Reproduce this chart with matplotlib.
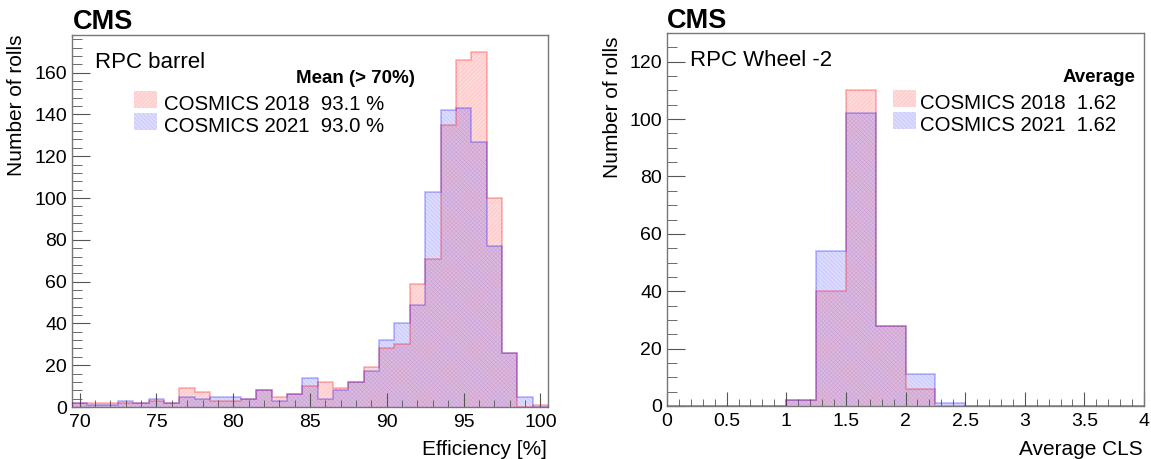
import numpy as np
import matplotlib
matplotlib.use("Agg")
import matplotlib.pyplot as plt
from matplotlib.patches import Rectangle
from matplotlib.ticker import MultipleLocator

plt.rcParams['font.family'] = ['Liberation Sans', 'DejaVu Sans']
plt.rcParams['hatch.linewidth'] = 0.35

# ---------------- data ----------------
eff_edges = np.arange(69.5, 101.0, 1.0)          # 31 bins, 70..100
eff_2018 = [2, 2, 2, 2, 2, 3, 2, 9, 7, 3, 3, 4, 8, 5, 6, 10, 12, 9, 12, 19,
            28, 30, 59, 71, 135, 166, 170, 100, 26, 0, 1]
eff_2021 = [2, 1, 1, 3, 2, 4, 2, 5, 4, 5, 5, 4, 8, 3, 6, 14, 4, 8, 12, 17,
            32, 40, 49, 103, 142, 143, 127, 77, 26, 5, 0]

cls_edges = np.arange(0.0, 4.01, 0.25)            # 16 bins
cls_2018 = [0, 0, 0, 0, 2, 40, 110, 28, 6, 0, 0, 0, 0, 0, 0, 0]
cls_2021 = [0, 0, 0, 0, 2, 54, 102, 28, 11, 1, 0, 0, 0, 0, 0, 0]

labels = ["COSMICS 2018", "COSMICS 2021"]
eff_means = ["93.1 %", "93.0 %"]
cls_avgs = ["1.62", "1.62"]

# ---------------- style ----------------
W, H = 1151, 459
fig = plt.figure(figsize=(W / 100, H / 100), dpi=100)

def fx(px):
    return px / W

def fy(py):
    return 1 - py / H

RED_FACE = (1, 0, 0, 0.15)
RED_HATCH = (1, 0, 0, 0.14)
RED_LINE = (1, 0, 0, 0.32)
BLUE_FACE = (0, 0, 1, 0.14)
BLUE_HATCH = (0, 0, 1, 0.14)
BLUE_LINE = (0, 0, 1, 0.30)

styles = [
    dict(face=RED_FACE, hatch_c=RED_HATCH, line=RED_LINE, hatch='////////'),
    dict(face=BLUE_FACE, hatch_c=BLUE_HATCH, line=BLUE_LINE,
         hatch='\\\\\\\\\\\\\\\\'),
]

def draw_hist(ax, values, edges, st):
    ax.stairs(values, edges, fill=True, facecolor=st['face'], edgecolor='none',
              linewidth=0)
    ax.stairs(values, edges, fill=True, facecolor='none', edgecolor=st['hatch_c'],
              hatch=st['hatch'], linewidth=0)
    ax.stairs(values, edges, fill=False, color=st['line'], linewidth=1.1,
              baseline=0, zorder=3)

def style_axes(ax, xmaj, xmin, ymaj, ymin):
    ax.xaxis.set_major_locator(MultipleLocator(xmaj))
    ax.xaxis.set_minor_locator(MultipleLocator(xmin))
    ax.yaxis.set_major_locator(MultipleLocator(ymaj))
    ax.yaxis.set_minor_locator(MultipleLocator(ymin))
    ax.tick_params(axis='both', which='both', direction='in', top=False,
                   right=False, labelsize=14, color='#555555')
    ax.tick_params(axis='x', which='major', length=10, pad=5)
    ax.tick_params(axis='x', which='minor', length=5)
    ax.tick_params(axis='y', which='major', length=13, pad=3.5)
    ax.tick_params(axis='y', which='minor', length=7)
    for s in ax.spines.values():
        s.set_color('#777777')
        s.set_linewidth(1.0)

# ---------------- left panel ----------------
axL = fig.add_axes([fx(72), fy(407), fx(548) - fx(72), fy(35) - fy(407)])
for vals, st in zip([eff_2018, eff_2021], styles):
    draw_hist(axL, vals, eff_edges, st)
axL.set_xlim(69.5, 100.5)
axL.set_ylim(0, 178)
style_axes(axL, 5, 1, 20, 4)

# ---------------- right panel ----------------
axR = fig.add_axes([fx(667), fy(406), fx(1144) - fx(667), fy(33) - fy(406)])
for vals, st in zip([cls_2018, cls_2021], styles):
    draw_hist(axR, vals, cls_edges, st)
axR.set_xlim(0, 4)
axR.set_ylim(0, 130)
style_axes(axR, 0.5, 0.1, 20, 5)
axR.set_xticks([0, 0.5, 1, 1.5, 2, 2.5, 3, 3.5, 4])
axR.set_xticklabels(['0', '0.5', '1', '1.5', '2', '2.5', '3', '3.5', '4'])

# ---------------- texts ----------------
fig.text(fx(73), fy(29), "CMS", fontsize=19.5, fontweight='bold', va='baseline')
fig.text(fx(667), fy(28), "CMS", fontsize=19.5, fontweight='bold', va='baseline')
fig.text(fx(95), fy(68), "RPC barrel", fontsize=16, va='baseline')
fig.text(fx(690), fy(66), "RPC Wheel -2", fontsize=16, va='baseline')

fig.text(fx(17), fy(35), "Number of rolls", fontsize=15, rotation=90,
         ha='center', va='top')
fig.text(fx(612), fy(36), "Number of rolls", fontsize=15, rotation=90,
         ha='center', va='top')
fig.text(fx(547), fy(455), "Efficiency [%]", fontsize=15, ha='right',
         va='baseline')
fig.text(fx(1143), fy(455), "Average CLS", fontsize=15, ha='right',
         va='baseline')

# ---------------- legends ----------------
def legend(header, header_x, header_y, patch_x, text_x, base_y, entries):
    fig.text(fx(header_x), fy(header_y), header, fontsize=13.5,
             fontweight='bold', ha='right', va='baseline')
    for i, (lab, val) in enumerate(entries):
        st = styles[i]
        y_base = base_y + i * 22
        for face, ec, hatch in [(st['face'], 'none', None),
                                ('none', st['hatch_c'], st['hatch'])]:
            r = Rectangle((fx(patch_x), fy(y_base - 2)), fx(23), fy(0) - fy(17),
                          transform=fig.transFigure, facecolor=face,
                          edgecolor=ec, hatch=hatch, linewidth=0)
            fig.add_artist(r)
        fig.text(fx(text_x), fy(y_base), f"{lab}  {val}", fontsize=14.7,
                 va='baseline')

legend("Mean (> 70%)", 415, 83, 134, 164, 110,
       list(zip(labels, eff_means)))
legend("Average", 1135, 82, 893, 920, 109,
       list(zip(labels, cls_avgs)))

fig.savefig("out.png", dpi=100)
